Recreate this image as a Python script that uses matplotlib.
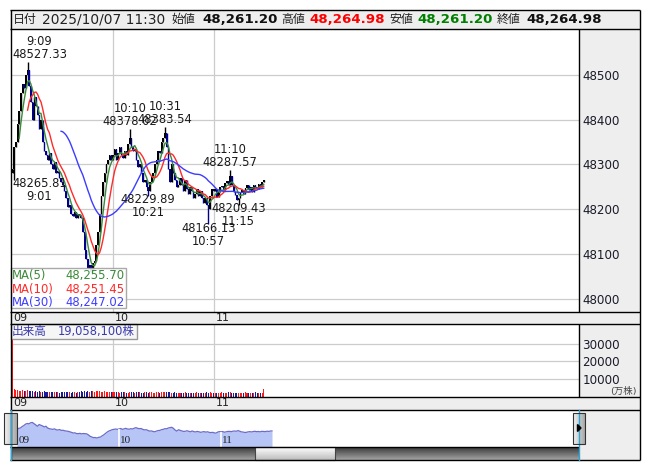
import numpy as np
import pandas as pd
import matplotlib.pyplot as plt
from matplotlib.patches import Rectangle, Polygon

W, H = 653, 470

# 1-minute closes, 9:00 .. 11:30
closes = [
    48290, 48340, 48350, 48390, 48420, 48460, 48480, 48470, 48500, 48510,
    48475, 48440, 48400, 48450, 48430, 48410, 48380, 48400, 48350, 48330,
    48320, 48310, 48325, 48300, 48290, 48305, 48280, 48285, 48270, 48260,
    48255, 48240, 48225, 48205, 48210, 48190, 48185, 48195, 48180, 48190,
    48185, 48180, 48150, 48110, 48090, 48070, 48075, 48060, 48080, 48085,
    48120, 48150, 48190, 48230, 48260, 48280, 48300, 48310, 48320, 48310,
    48320, 48335, 48310, 48325, 48340, 48320, 48315, 48330, 48320, 48345,
    48360, 48340, 48330, 48335, 48310, 48295, 48300, 48280, 48260, 48265,
    48250, 48240, 48260, 48275, 48280, 48300, 48310, 48330, 48325, 48350,
    48360, 48370, 48340, 48290, 48260, 48300, 48280, 48265, 48250, 48255,
    48270, 48255, 48240, 48265, 48245, 48235, 48250, 48240, 48225, 48235,
    48245, 48230, 48240, 48225, 48215, 48225, 48210, 48200, 48230, 48245,
    48240, 48245, 48228, 48238, 48250, 48252, 48244, 48258, 48262, 48255,
    48275, 48255, 48238, 48232, 48220, 48225, 48238, 48244, 48235, 48248,
    48254, 48244, 48249, 48239, 48254, 48250, 48245, 48257.30, 48250, 48261.20,
    48264.98,
]
first_open = 48280.0

# volume per minute (万株)
volumes = [
    48000,
    4300, 3900, 4100, 3600, 3400, 3800, 3300, 3500, 3900, 3600,
    3200, 3400, 3000, 3100, 2900, 3300, 3000, 2800, 3100, 2900,
    2700, 3000, 2800, 2600, 2900, 2700, 2800, 2500, 2700, 2900,
    2800, 2600, 3000, 2700, 2500, 2800, 2600, 2400, 2700, 2900,
    3100, 2800, 3200, 3000, 3300, 2900, 3400, 3100, 3000, 3200,
    3500, 3300, 3000, 2900, 3100, 2800, 2700, 2900, 2600, 2800,
    2700, 2900, 2600, 2500, 2800, 2600, 2700, 2500, 2400, 2900,
    2700, 2600, 2500, 2700, 2800, 2600, 2500, 2400, 2600, 2700,
    2500, 2700, 2600, 2400, 2500, 2700, 2600, 2500, 2800, 2700,
    2600, 2900, 2800, 2700, 2500, 2400, 2600, 2500, 2400, 2300,
    2500, 2400, 2600, 2300, 2500, 2400, 2200, 2500, 2400, 2600,
    2300, 2400, 2500, 2300, 2400, 2600, 2500, 2700, 2400, 2300,
    2500, 2400, 2300, 2500, 2600, 2400, 2500, 2300, 2600, 2700,
    2500, 2400, 2300, 2500, 2400, 2300, 2500, 2400, 2600, 2300,
    2400, 2500, 2300, 2400, 2600, 2500, 2400, 2300, 2500, 4600,
]
total_volume = 19058100

# labelled extremes
high_idx = [9, 70, 91, 130]
high_vals = [48527.33, 48378.02, 48383.54, 48287.57]
high_times = ["9:09", "10:10", "10:31", "11:10"]
low_idx = [1, 47, 81, 117, 135]
low_vals = [48265.81, 48058.40, 48229.89, 48166.13, 48209.43]
low_times = ["9:01", "", "10:21", "10:57", "11:15"]

ma_periods = [5, 10, 30]
ma_colors = ["#3a8a3a", "#ff2a2a", "#3c3cff"]

price_ticks = [48000, 48100, 48200, 48300, 48400, 48500]
vol_ticks = [10000, 20000, 30000]
hour_labels = ["09", "10", "11"]

# ---- derived bars ----
closes = np.array(closes, dtype=float)
n = len(closes)
mins = np.arange(n)
opens = np.concatenate([[first_open], closes[:-1]])
highs = np.maximum(opens, closes)
lows = np.minimum(opens, closes)
for i, v in zip(high_idx, high_vals):
    highs[i] = v
for i, v in zip(low_idx, low_vals):
    lows[i] = v
up = closes >= opens


def px_rect(x0, y0, x1, y1):
    return [x0 / W, 1 - y1 / H, (x1 - x0) / W, (y1 - y0) / H]


PX0, PPM = 12.5, 1.675  # pixel of 9:00 and pixels per minute
xl = ((11 - PX0) / PPM, (579 - PX0) / PPM)

fig = plt.figure(figsize=(W / 100, H / 100), dpi=100)

bg = fig.add_axes([0, 0, 1, 1], zorder=0)
bg.set_xlim(0, W)
bg.set_ylim(H, 0)
bg.axis("off")
gray = "#eeeeee"
for x0, y0, x1, y1 in [(10, 10, 640, 29), (579, 29, 640, 460),
                       (10, 312, 579, 324), (10, 397, 579, 410)]:
    bg.add_patch(Rectangle((x0, y0), x1 - x0, y1 - y0, color=gray, lw=0))

# ---- main price panel ----
ax = fig.add_axes(px_rect(11, 29, 579, 312), zorder=1)
ax.set_xlim(*xl)
ax.set_ylim(47971, 48602)
for s in ax.spines.values():
    s.set_visible(False)
ax.set_yticks(price_ticks)
ax.yaxis.tick_right()
ax.set_xticks([60, 120])
ax.tick_params(axis="y", length=0, pad=2.5, labelsize=8.6, labelcolor="#1a1a2a")
ax.tick_params(axis="x", length=0, labelbottom=False)
ax.grid(True, color="#cccccc", lw=0.9)
ax.set_axisbelow(True)

ccol = np.where(up, "#000000", "#00008c")
ax.vlines(mins, lows, highs, colors=ccol, lw=1.0, zorder=2)
body = np.maximum(np.abs(closes - opens), 1.2)
ax.bar(mins, body, bottom=np.minimum(opens, closes), width=0.9, color=ccol,
       lw=0, zorder=2)

ser = pd.Series(closes)
ma_last = []
for p, c in zip(ma_periods, ma_colors):
    ma = ser.rolling(p).mean()
    ax.plot(mins, ma, color=c, lw=1.0, zorder=3)
    ma_last.append(ma.iloc[-1])

fs_lab = 8.3
for i, v, t in zip(high_idx, high_vals, high_times):
    ha, x = ("left", xl[0] + 0.6) if i < 12 else ("center", i)
    ax.annotate(f"{t}\n{v:.2f}", xy=(x, v), xytext=(0, 1), textcoords="offset points",
                ha=ha, va="bottom", multialignment="center", fontsize=fs_lab,
                color="#1a1a1a", linespacing=1.0, zorder=4)
for i, v, t in zip(low_idx, low_vals, low_times):
    if not t:
        continue
    ha, x = ("left", xl[0] + 0.6) if i < 12 else ("center", i)
    ax.annotate(f"{v:.2f}\n{t}", xy=(x, v), xytext=(0, 2), textcoords="offset points",
                ha=ha, va="top", multialignment="center", fontsize=fs_lab,
                color="#1a1a1a", linespacing=1.0, zorder=4)

# ---- volume panel ----
av = fig.add_axes(px_rect(11, 324, 579, 397), zorder=1)
av.set_xlim(*xl)
av.set_ylim(0, 41000)
for s in av.spines.values():
    s.set_visible(False)
av.set_yticks(vol_ticks)
av.yaxis.tick_right()
av.set_xticks([60, 120])
av.tick_params(axis="y", length=0, pad=2.5, labelsize=8.6, labelcolor="#1a1a2a")
av.tick_params(axis="x", length=0, labelbottom=False)
av.grid(True, color="#cccccc", lw=0.9)
av.set_axisbelow(True)
vcol = np.where(up, "#ff1a1a", "#1a1a9c")
av.bar(mins, volumes, width=0.6, color=vcol, lw=0)

# ---- navigator ----
an = fig.add_axes(px_rect(11, 410, 579, 447), zorder=1)
NX0, NPM = 17, 1.7
an.set_xlim((11 - NX0) / NPM, (579 - NX0) / NPM)
an.set_ylim(47800, 48870)
an.axis("off")
an.fill_between(mins, closes, 47800, color="#b6c4f6", lw=0)
an.plot(mins, closes, color="#6c6cc8", lw=0.9)
an.vlines([60, 120], 47800, closes[[60, 120]], colors="white", lw=1.2)
for m, lab in zip([0, 60, 120], hour_labels):
    an.text(m + 0.8, 47990, lab, fontsize=8, family="Liberation Serif",
            color="#222222", va="center", ha="left")

# ---- overlay: frames, header, boxes ----
ov = fig.add_axes([0, 0, 1, 1], zorder=5)
ov.set_xlim(0, W)
ov.set_ylim(H, 0)
ov.axis("off")
ov.set_autoscale_on(False)

# MA legend box
ov.add_patch(Rectangle((11, 268), 115, 40, facecolor="white", alpha=0.9,
                       edgecolor="#a0a0a0", lw=1))
for k, (p, c, v) in enumerate(zip(ma_periods, ma_colors, ma_last)):
    yy = 275.5 + k * 13.5
    ov.text(12, yy, f"MA({p})", color=c, fontsize=8.4, va="center", ha="left")
    ov.text(124.5, yy, f"{v:,.2f}", color=c, fontsize=8.4, va="center", ha="right")

# volume label box
ov.add_patch(Rectangle((11, 324), 126, 15, facecolor="#f6f6f6", edgecolor="#9a9a9a", lw=1))
ov.text(12, 331.5, "出来高", family="Noto Sans CJK JP", fontsize=8.4,
        color="#3a3ab0", va="center", ha="left")
ov.text(58, 331.5, f"{total_volume:,}株",
        family=["DejaVu Sans", "Noto Sans CJK JP"], fontsize=8.3,
        color="#3a3ab0", va="center", ha="left")
ov.text(637, 391, "(万株)", family=["DejaVu Sans", "Noto Sans CJK JP"], fontsize=6.8,
        color="#444444", va="center", ha="right")

# hour labels in strips
for m, lab in zip([0, 60, 120], hour_labels):
    xp = PX0 + m * PPM + (1 if m == 0 else 2)
    ov.text(xp, 318, lab, fontsize=8, color="#222222", va="center", ha="left")
    ov.text(xp, 403.5, lab, fontsize=8, color="#222222", va="center", ha="left")

# header
hy = 19.5
cjk = "Noto Sans CJK JP"
hdr = [
    ("日付", 13, cjk, "normal", "#222222", 8.6),
    ("2025/10/07 11:30", 42, "DejaVu Sans", "normal", "#222222", 9.9),
    ("始値", 171, cjk, "normal", "#222222", 8.6),
    (f"{opens[-1]:,.2f}", 202, "DejaVu Sans", "bold", "#111111", 9.6),
    ("高値", 281, cjk, "normal", "#222222", 8.6),
    (f"{highs[-1]:,.2f}", 309, "DejaVu Sans", "bold", "#ff0000", 9.6),
    ("安値", 389, cjk, "normal", "#222222", 8.6),
    (f"{lows[-1]:,.2f}", 417, "DejaVu Sans", "bold", "#008000", 9.6),
    ("終値", 497, cjk, "normal", "#222222", 8.6),
    (f"{closes[-1]:,.2f}", 526, "DejaVu Sans", "bold", "#111111", 9.6),
]
for txt, x, fam, wt, col, fs in hdr:
    ov.text(x, hy, txt, family=fam, fontweight=wt, color=col, fontsize=fs,
            va="center", ha="left")


def grad(x0, y0, x1, y1, c0, c1, horizontal=False):
    c0 = np.array(plt.matplotlib.colors.to_rgb(c0))
    c1 = np.array(plt.matplotlib.colors.to_rgb(c1))
    t = np.linspace(0, 1, 32)
    g = c0 + (c1 - c0) * t[:, None]
    img = g[None, :, :] if horizontal else g[:, None, :]
    ov.imshow(img, extent=(x0, x1, y1, y0), origin="upper", aspect="auto",
              interpolation="bilinear", zorder=2)


# scrollbar
grad(10.5, 447, 579, 460, "#3a3a3a", "#a4a4a4")
grad(255, 447, 335, 460, "#ffffff", "#bcbcbc")
ov.add_patch(Rectangle((255, 447), 80, 13, fill=False, edgecolor="#444444", lw=0.8, zorder=3))
ov.add_patch(Rectangle((579, 447), 61, 13, color=gray, lw=0, zorder=2))

# frames
k = "#000000"
lines = [
    ((10.5, 10.5), (10, 460)), ((640, 640), (10, 460)),
    ((10, 640), (10, 10)), ((10, 640), (29, 29)),
    ((10, 640), (312, 312)), ((10, 640), (324, 324)),
    ((10, 640), (397, 397)), ((10, 640), (410, 410)),
    ((10, 640), (460, 460)), ((10, 579), (447, 447)),
    ((579, 579), (29, 312)), ((579, 579), (324, 397)),
]
for xs, ys in lines:
    ov.plot(xs, ys, color=k, lw=1, zorder=4, solid_capstyle="butt")
ov.plot([10.5, 10.5], [410, 460], color="#2aa6d8", lw=1, zorder=4)
ov.plot([579, 579], [410, 460], color="#2aa6d8", lw=1, zorder=4)

# navigator handles
grad(4, 413, 17, 444, "#f4f4f4", "#a8a8a8", horizontal=True)
ov.add_patch(Rectangle((4, 413), 13, 31, fill=False, edgecolor="#333333", lw=0.8, zorder=5))
grad(573, 413, 585, 444, "#f4f4f4", "#a8a8a8", horizontal=True)
ov.add_patch(Rectangle((573, 413), 12, 31, fill=False, edgecolor="#333333", lw=0.8, zorder=5))
ov.add_patch(Polygon([(577.5, 424.5), (577.5, 431.5), (581, 428)], color="black", zorder=6))

fig.savefig("out.png", dpi=100)
